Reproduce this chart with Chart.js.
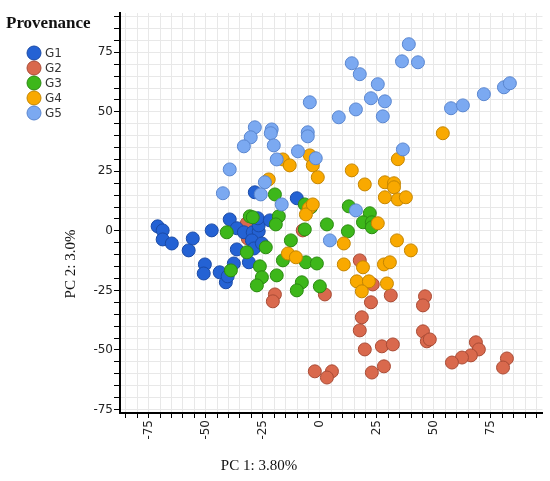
<!DOCTYPE html>
<html>
<head>
<meta charset="utf-8">
<script src="https://cdn.jsdelivr.net/npm/chart.js@4.4.1/dist/chart.umd.min.js"></script>
<style>
  html, body { margin: 0; padding: 0; background: #fff; }
  #wrap { width: 550px; height: 481px; }
</style>
</head>
<body>
<div id="wrap"><canvas id="pca"></canvas></div>
<script>
// PCA scores, one pair of arrays per provenance group
var groupNames = ['G1', 'G2', 'G3', 'G4', 'G5'];

var g1x = [-71.1, -68.9, -68.9, -64.9, -55.7, -57.5, -47.4, -50.4, -50.9, -43.9, -41.2, -40.4, -37.7, -36.4,
           -31.1, -39.5, -36.4, -33.3, -29.4, -26.8, -26.8, -27.2, -29.8, -28.9, -25.4, -28.5, -10.1, -21.9];
var g1y = [1.9, 0.2, -3.6, -5.3, -3.2, -8.2, 0.2, -14.1, -17.9, -17.4, -21.6, -19.1, -13.7, -7.8,
           -13.2, 4.8, 1.1, -0.6, -0.6, -0.2, 2.3, 5.3, -4.0, -7.4, -5.3, 16.2, 13.7, 4.4];

var g2x = [-19.7, -20.6, 2.2, 23.2, 22.4, 31.1, 46.1, 45.2, 18.4, 17.5, 45.2, 46.9, 48.2, 19.7, 27.2, 32.0,
           68.4, 69.7, 66.2, 62.3, 57.9, 82.0, 80.3, -2.2, 5.3, 3.1, 22.8, 28.1, -7.5, 17.5, -32.0, -31.6];
var g2y = [-26.7, -29.6, -26.7, -22.5, -30.0, -27.1, -27.5, -31.3, -36.3, -41.8, -42.2, -46.4, -45.6, -49.8, -48.5, -47.7,
           -46.8, -49.8, -52.3, -53.2, -55.3, -53.6, -57.4, -59.0, -59.0, -61.6, -59.5, -56.9, 0.2, -12.4, 3.2, -3.2];

var g3x = [-19.7, -6.6, -3.9, -30.7, -18.0, -19.3, -40.8, -6.6, -12.7, -32.0, -23.7, -18.9, -26.3, -25.4, -27.6,
           -6.1, -1.3, -7.9, -10.1, 0.0, 3.1, 12.3, 12.7, 21.9, 18.9, 22.8, 22.8, -29.4, -16.2, -39.0];
var g3y = [15.3, 11.1, 9.9, 6.1, 6.1, 2.7, -0.6, 0.6, -4.0, -9.0, -6.9, -18.7, -14.9, -19.5, -22.9,
           -13.2, -13.7, -21.6, -25.0, -23.3, 2.7, -0.2, 10.3, 7.4, 3.6, 3.6, 1.5, 5.7, -12.4, -16.6];

var g4x = [53.9, 34.2, 14.0, 19.7, 28.5, 32.5, 32.5, -16.2, -13.2, -4.4, -3.1, -0.9, -22.4, -4.8, -6.1, -3.1, -14.0,
           -10.5, 28.5, 34.2, 37.7, 10.5, 33.8, 39.9, 10.5, 18.9, 28.1, 30.7, 16.2, 21.5, 18.4, 29.4, 25.4];
var g4y = [41.0, 30.1, 25.4, 19.5, 20.4, 20.0, 18.3, 30.0, 27.5, 31.7, 27.5, 22.5, 21.6, 9.5, 6.9, 11.1, -9.5,
           -11.1, 14.1, 13.2, 14.1, -5.3, -4.0, -8.2, -14.1, -15.3, -14.1, -13.2, -21.2, -21.2, -25.4, -22.1, 3.2];

var g5x = [39.0, 36.0, 43.0, 14.0, 17.5, 25.4, 22.4, 28.5, 15.8, 8.3, 27.6, 57.5, 62.7, 71.9, 80.7, 83.3, 36.4, -4.4,
           -28.5, -21.1, -21.5, -30.3, -33.3, -20.2, -5.3, -5.3, -9.6, -18.9, -1.8, -39.5, -24.1, -42.5, -25.9, -16.7, 15.8, 4.4];
var g5y = [78.4, 71.2, 70.8, 70.4, 65.8, 61.6, 55.7, 54.4, 51.0, 47.7, 48.1, 51.5, 52.7, 57.4, 60.3, 62.0, 34.2, 54.0,
           43.5, 42.6, 41.0, 39.3, 35.5, 35.9, 41.4, 39.7, 33.4, 30.0, 30.5, 25.8, 20.4, 15.8, 15.3, 11.1, 8.6, -4.0];

var fills   = ['#2462d4', '#d9694d', '#3db71a', '#f9a900', '#7ba9f1'];
var borders = ['#1a4aa6', '#a94b35', '#2b8a12', '#c48500', '#5a86cf'];
// draw order: G2 at the bottom, G5 on top
var drawOrder = [4, 5, 3, 2, 1];

var xs = [g1x, g2x, g3x, g4x, g5x];
var ys = [g1y, g2y, g3y, g4y, g5y];

function pairs(a, b) {
    var out = [];
    for (var i = 0; i < a.length; i++) {
        out.push({x: a[i], y: b[i]});
    }
    return out;
}

var datasets = groupNames.map(function (name, i) {
    return {
        label: name,
        data: pairs(xs[i], ys[i]),
        backgroundColor: fills[i],
        borderColor: borders[i],
        borderWidth: 1,
        pointRadius: 6.5,
        order: drawOrder[i]
    };
});

// legend + axis titles drawn on the canvas after the chart
var extras = {
    id: 'extras',
    afterDraw: function (chart) {
        var ctx = chart.ctx;
        ctx.save();
        ctx.fillStyle = '#111';
        ctx.font = 'bold 17px "Liberation Serif", serif';
        ctx.textAlign = 'left';
        ctx.textBaseline = 'alphabetic';
        ctx.fillText('Provenance', 6, 28);

        ctx.font = '12px "DejaVu Sans", sans-serif';
        ctx.textBaseline = 'middle';
        chart.data.datasets.forEach(function (ds, i) {
            var cy = 53 + i * 15;
            ctx.beginPath();
            ctx.arc(34, cy, 7, 0, Math.PI * 2);
            ctx.fillStyle = ds.backgroundColor;
            ctx.fill();
            ctx.lineWidth = 1;
            ctx.strokeStyle = ds.borderColor;
            ctx.stroke();
            ctx.fillStyle = '#333';
            ctx.fillText(ds.label, 45, cy + 1);
        });

        ctx.fillStyle = '#111';
        ctx.font = '15px "Liberation Serif", serif';
        ctx.textAlign = 'center';
        ctx.fillText('PC 1: 3.80%', 259, 466);

        ctx.translate(71, 264);
        ctx.rotate(-Math.PI / 2);
        ctx.fillText('PC 2: 3.0%', 0, 0);
        ctx.restore();
    }
};

function every25(v) {
    return Math.abs(v % 25) < 1e-6 ? String(Math.round(v)) : '';
}

var tickFont = {family: '"DejaVu Sans", sans-serif', size: 12};

new Chart(document.getElementById('pca'), {
    type: 'scatter',
    data: {datasets: datasets},
    options: {
        responsive: true,
        maintainAspectRatio: false,
        animation: false,
        layout: {padding: {left: 0, top: 13, right: 7, bottom: 0}},
        plugins: {
            legend: {display: false},
            tooltip: {enabled: false}
        },
        scales: {
            x: {
                type: 'linear',
                min: -87.6,
                max: 97.6,
                grid: {color: '#e8e8e8', tickColor: '#000', tickLength: 5, lineWidth: 1},
                border: {display: true, color: '#000', width: 2},
                ticks: {
                    stepSize: 5,
                    includeBounds: false,
                    autoSkip: false,
                    minRotation: 90,
                    maxRotation: 90,
                    padding: 2,
                    color: '#222',
                    font: tickFont,
                    callback: every25
                },
                afterFit: function (scale) {
                    scale.height = 68;
                    scale.paddingLeft = 0;
                    scale.paddingRight = 0;
                }
            },
            y: {
                type: 'linear',
                min: -76.5,
                max: 91.5,
                grid: {color: '#e8e8e8', tickColor: '#000', tickLength: 6, lineWidth: 1},
                border: {display: true, color: '#000', width: 2},
                ticks: {
                    stepSize: 5,
                    includeBounds: false,
                    autoSkip: false,
                    padding: 1,
                    color: '#222',
                    font: tickFont,
                    callback: every25
                },
                afterFit: function (scale) {
                    scale.width = 120;
                    scale.paddingTop = 0;
                    scale.paddingBottom = 0;
                }
            }
        }
    },
    plugins: [extras]
});
</script>
</body>
</html>
